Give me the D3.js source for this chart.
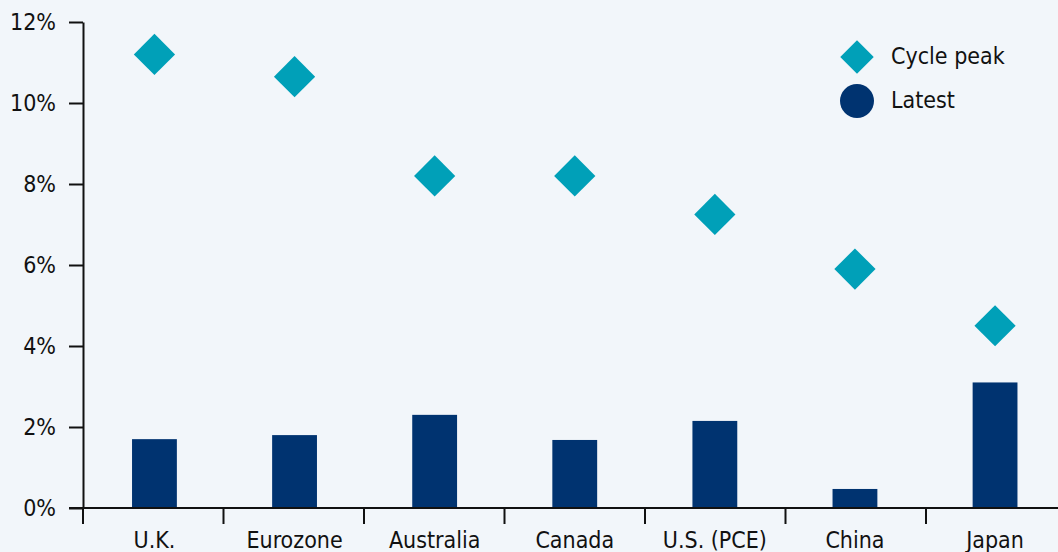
<!DOCTYPE html>
<html>
<head>
<meta charset="utf-8">
<script src="https://cdn.jsdelivr.net/npm/d3@7"></script>
<style>
  body { margin: 0; background: #f2f6fa; }
  svg text { font-family: "DejaVu Sans Condensed", "DejaVu Sans", sans-serif; fill: #111; }
</style>
</head>
<body>
<div id="chart"></div>
<script>
var countries = ["U.K.", "Eurozone", "Australia", "Canada", "U.S. (PCE)", "China", "Japan"];
var cyclePeak = [11.2, 10.65, 8.2, 8.2, 7.25, 5.9, 4.5];
var latest = [1.7, 1.8, 2.3, 1.68, 2.15, 0.47, 3.1];
var yTicks = [0, 2, 4, 6, 8, 10, 12];
var legendLabels = ["Cycle peak", "Latest"];

var margin = {top: 22, right: 0, bottom: 44, left: 83},
    width = 1058 - margin.left - margin.right,
    height = 552 - margin.top - margin.bottom;

var svg = d3.select("#chart").append("svg")
    .attr("width", width + margin.left + margin.right)
    .attr("height", height + margin.top + margin.bottom)
    .style("background", "#f2f6fa")
  .append("g")
    .attr("transform", "translate(" + margin.left + "," + margin.top + ")");

var bandW = 140.5;
var x = d3.scaleBand()
    .domain(countries)
    .range([0, bandW * countries.length])
    .paddingInner(0.68)
    .paddingOuter(0.35);

var y = d3.scaleLinear()
    .domain([0, 12])
    .range([486, 0]);

// bars
svg.selectAll(".bar")
    .data(latest)
  .enter().append("rect")
    .attr("class", "bar")
    .attr("x", function(d, i) { return x(countries[i]); })
    .attr("y", function(d) { return y(d); })
    .attr("width", x.bandwidth())
    .attr("height", function(d) { return y(0) - y(d); })
    .attr("fill", "#003370");

// y axis
svg.append("g")
    .attr("class", "y-axis")
    .style("font-size", "23px")
    .call(d3.axisLeft(y).tickValues(yTicks).tickFormat(function(d) { return d + "%"; }).tickSize(14).tickSizeOuter(0).tickPadding(13))
    .call(function(g) {
      g.attr("font-family", null);
      g.selectAll("line").attr("stroke", "#111").attr("stroke-width", 2);
      g.select(".domain").attr("stroke", "#111").attr("stroke-width", 2);
      g.selectAll("text").attr("fill", "#111");
    });

// x axis
var xAxis = svg.append("g")
    .attr("class", "x-axis")
    .attr("transform", "translate(0," + y(0) + ")");

xAxis.append("line")
    .attr("x1", -14).attr("x2", width)
    .attr("stroke", "#111").attr("stroke-width", 2);

xAxis.selectAll(".sep")
    .data(d3.range(countries.length + 1))
  .enter().append("line")
    .attr("x1", function(d) { return d * bandW; })
    .attr("x2", function(d) { return d * bandW; })
    .attr("y1", 0).attr("y2", 16)
    .attr("stroke", "#111").attr("stroke-width", 2);

xAxis.selectAll(".lbl")
    .data(countries)
  .enter().append("text")
    .attr("x", function(d) { return x(d) + x.bandwidth() / 2; })
    .attr("y", 40)
    .attr("text-anchor", "middle")
    .style("font-size", "23px")
    .text(function(d) { return d; });

// diamonds
var diamond = d3.symbol().type(d3.symbolSquare).size(850);
svg.selectAll(".peak")
    .data(cyclePeak)
  .enter().append("path")
    .attr("class", "peak")
    .attr("d", diamond)
    .attr("transform", function(d, i) {
      return "translate(" + (x(countries[i]) + x.bandwidth() / 2) + "," + y(d) + ") rotate(45)";
    })
    .attr("fill", "#00a0b8");

// legend
var legend = svg.append("g")
    .attr("transform", "translate(774,0)");

legend.append("path")
    .attr("d", d3.symbol().type(d3.symbolSquare).size(560))
    .attr("transform", "translate(0,35) rotate(45)")
    .attr("fill", "#00a0b8");

legend.append("circle")
    .attr("cx", 0).attr("cy", 79).attr("r", 17)
    .attr("fill", "#003370");

legend.selectAll(".ltext")
    .data(legendLabels)
  .enter().append("text")
    .attr("x", 34)
    .attr("y", function(d, i) { return 34 + i * 44; })
    .attr("dy", "0.35em")
    .style("font-size", "23px")
    .text(function(d) { return d; });
</script>
</body>
</html>
